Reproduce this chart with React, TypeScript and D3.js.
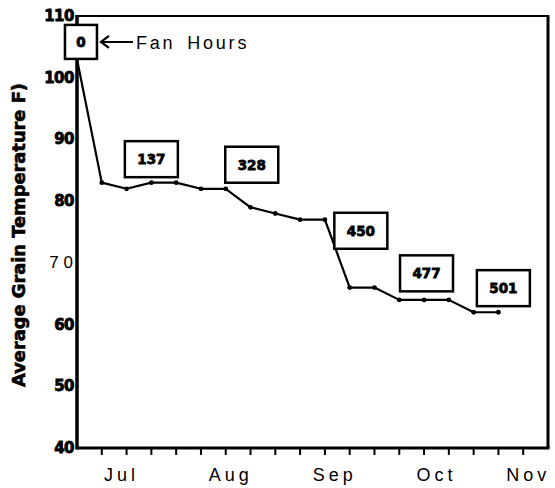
import { useEffect } from 'react';
import * as d3 from 'd3';

// weeks since late June, average grain temperature (F)
const weeks = [0, 1, 2, 3, 4, 5, 6, 7, 8, 9, 10, 11, 12, 13, 14, 15, 16, 17];
const temps = [103, 83, 82, 83, 83, 82, 82, 79, 78, 77, 77, 66, 66, 64, 64, 64, 62, 62];

// fan hours annotation boxes (center in week / temperature units)
const fanHours = ['0', '137', '328', '450', '477', '501'];
const fanWeek = [0.16, 3, 7.05, 11.45, 14.1, 17.2];
const fanTemp = [105.8, 86.8, 85.9, 75.2, 68.3, 65.9];

const months = ['Jul', 'Aug', 'Sep', 'Oct', 'Nov'];
const monthWeek = [1.8, 6.2, 10.4, 14.5, 18.2];

const yTicks = [40, 50, 60, 70, 80, 90, 100, 110];
const yTickLabels = ['40', '50', '60', '7 0', '80', '90', '100', '110'];

const W = 555;
const H = 488;
const margin = { top: 16, right: 7, bottom: 40, left: 77 };

export default function App() {
  useEffect(() => {
    document.body.style.margin = '0';
  }, []);

  const x = d3.scaleLinear().domain([0, 19]).range([margin.left, W - margin.right]);
  const y = d3.scaleLinear().domain([40, 110]).range([H - margin.bottom, margin.top]);

  const line = d3.line<number>()
    .x((_, i) => x(weeks[i]))
    .y(d => y(d));

  const x0 = x(0), x1 = x(19), yTop = y(110), yBot = y(40);
  const heavy = '"DejaVu Sans", Arial, sans-serif';
  const light = '"Liberation Sans", Arial, sans-serif';

  return (
    <svg width={W} height={H} style={{ display: 'block', background: '#fff' }}>
      {/* frame */}
      <line x1={x0} x2={x1} y1={yTop} y2={yTop} stroke="#000" strokeWidth={2} />
      <line x1={x1} x2={x1} y1={yTop - 1} y2={yBot} stroke="#000" strokeWidth={3} />
      <line x1={x0} x2={x0} y1={yTop - 1} y2={yBot + 1.5} stroke="#000" strokeWidth={3.5} />
      <line x1={x0} x2={x1 + 1.5} y1={yBot} y2={yBot} stroke="#000" strokeWidth={3} />

      {/* weekly ticks */}
      {x.ticks(19).slice(1, -1).map(t => (
        <line key={t} x1={x(t)} x2={x(t)} y1={yBot + 1} y2={yBot + 7} stroke="#000" strokeWidth={2} />
      ))}

      {/* month labels */}
      {months.map((m, i) => (
        <text key={m} x={x(monthWeek[i])} y={481} textAnchor="middle"
          fontFamily={light} fontSize={18} letterSpacing={4}>{m}</text>
      ))}

      {/* y tick labels */}
      {yTicks.map((t, i) => {
        const lbl = yTickLabels[i];
        const thin = lbl.includes(' ');
        return (
          <text key={t} x={thin ? 73 : 74} y={y(t)} textAnchor="end" dominantBaseline="central"
            fontFamily={thin ? light : heavy} fontWeight={thin ? 'normal' : 'bold'}
            fontSize={thin ? 17 : 15} letterSpacing={thin ? 0 : -0.5}
            stroke={thin ? 'none' : '#000'} strokeWidth={0.8}>{lbl}</text>
        );
      })}

      {/* y axis title */}
      <text transform="translate(25,235) rotate(-90)" textAnchor="middle"
        fontFamily={heavy} fontWeight="bold" fontSize={17} stroke="#000" strokeWidth={0.6}
        textLength={304} lengthAdjust="spacingAndGlyphs">Average Grain Temperature  F)</text>

      {/* temperature line */}
      <path d={line(temps) ?? ''} fill="none" stroke="#000" strokeWidth={2.2} strokeLinejoin="round" />
      {temps.slice(1).map((t, i) => (
        <circle key={i} cx={x(weeks[i + 1])} cy={y(t)} r={2.4} fill="#000" />
      ))}

      {/* fan hour boxes */}
      {fanHours.map((h, i) => {
        const bw = h.length === 1 ? 32 : 53;
        const bh = h.length === 1 ? 34 : 36;
        const cx = x(fanWeek[i]);
        const cy = y(fanTemp[i]);
        return (
          <g key={h}>
            <rect x={cx - bw / 2} y={cy - bh / 2} width={bw} height={bh}
              fill="#fff" stroke="#000" strokeWidth={2.5} />
            <text x={cx} y={cy} textAnchor="middle" dominantBaseline="central"
              fontFamily={heavy} fontWeight="bold" fontSize={13.5}
              stroke="#000" strokeWidth={0.8}>{h}</text>
          </g>
        );
      })}

      {/* Fan Hours arrow + label */}
      {(() => {
        const ax = x(fanWeek[0]) + 19;
        const ay = y(fanTemp[0]);
        return (
          <g>
            <line x1={ax + 1} x2={ax + 33} y1={ay} y2={ay} stroke="#000" strokeWidth={2} />
            <path d={`M${ax + 9},${ay - 6} L${ax + 1},${ay} L${ax + 9},${ay + 6}`}
              fill="none" stroke="#000" strokeWidth={2.2} />
            <text x={ax + 36} y={ay + 7} fontFamily={light} fontSize={18} letterSpacing={2.8}
              wordSpacing={4}>Fan Hours</text>
          </g>
        );
      })()}
    </svg>
  );
}
